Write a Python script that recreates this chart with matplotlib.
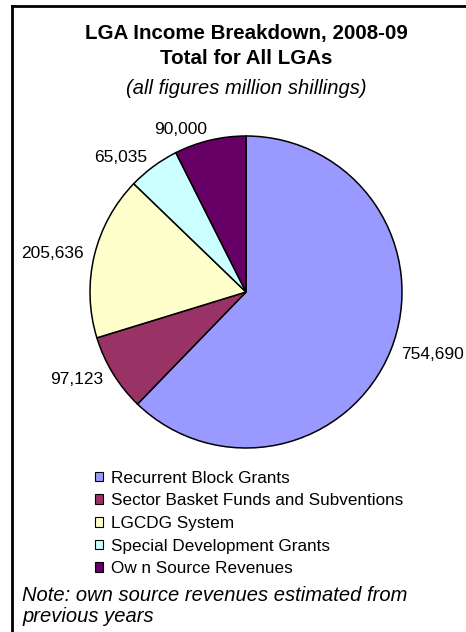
import matplotlib
matplotlib.use("Agg")
import matplotlib.pyplot as plt
from matplotlib.lines import Line2D
from matplotlib.patches import Patch

plt.rcParams['font.family'] = ['Liberation Sans', 'DejaVu Sans']

categories = ["Recurrent Block Grants", "Sector Basket Funds and Subventions",
              "LGCDG System", "Special Development Grants", "Ow n Source Revenues"]
values = [754690, 97123, 205636, 65035, 90000]
value_labels = ["754,690", "97,123", "205,636", "65,035", "90,000"]
colors = ["#9999FF", "#993366", "#FFFFCC", "#CCFFFF", "#660066"]

W, H = 466, 632
fig = plt.figure(figsize=(W / 100, H / 100), dpi=100)
fig.patch.set_facecolor("white")

cx, cy, r = 246, 292, 156
ax = fig.add_axes([(cx - r) / W, (H - cy - r) / H, 2 * r / W, 2 * r / H])
wedges, texts = ax.pie(values, labels=value_labels, colors=colors, startangle=90,
                       counterclock=False, labeldistance=1.07, radius=1.0,
                       wedgeprops=dict(edgecolor="black", linewidth=1.1),
                       textprops=dict(fontsize=12.5, color="black"))
ax.set_xlim(-1, 1)
ax.set_ylim(-1, 1)
ax.set_aspect("equal")
for t in texts:
    t.set_clip_on(False)

# frame
fig.add_artist(Line2D([12 / W, 1], [1 - 6 / H, 1 - 6 / H], color="black", lw=2))
fig.add_artist(Line2D([12 / W, 12 / W], [0, 1 - 6 / H], color="black", lw=2))

# titles
fig.text(246 / W, 1 - 33 / H, "LGA Income Breakdown, 2008-09", ha="center", va="center",
         fontsize=14.8, fontweight="bold")
fig.text(246 / W, 1 - 58 / H, "Total for All LGAs", ha="center", va="center",
         fontsize=14.8, fontweight="bold")
fig.text(246 / W, 1 - 88 / H, "(all figures million shillings)", ha="center", va="center",
         fontsize=14.5, fontstyle="italic")

handles = [Patch(facecolor=c, edgecolor="black", linewidth=0.8) for c in colors]
fig.legend(handles, categories, loc="upper left", bbox_to_anchor=(86 / W, 1 - 462 / H),
           frameon=False, fontsize=12.3, handlelength=0.5, handleheight=0.5,
           handletextpad=0.45, labelspacing=0.45, borderpad=0)

fig.text(22 / W, 1 - 586 / H, "Note: own source revenues estimated from\nprevious years",
         ha="left", va="top", fontsize=14.5, fontstyle="italic", linespacing=1.12)

fig.savefig("out.png", dpi=100)
